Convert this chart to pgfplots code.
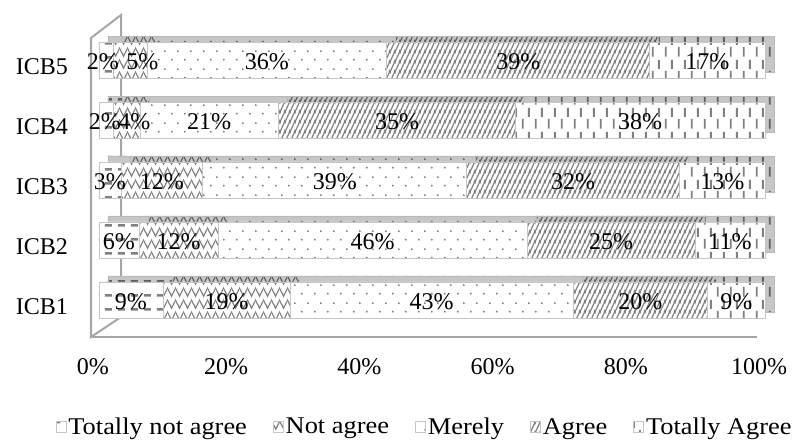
\documentclass[border=0pt]{standalone}
\usepackage{pgfplots}
\pgfplotsset{compat=1.18}
\usepackage{pgfplotstable}
\usepackage{fontspec}
\setmainfont{Liberation Serif}
\newfontfamily\legfont{Liberation Serif}[FakeStretch=1.1]
\usetikzlibrary{patterns}

% patterns
\pgfdeclarepatternformonly{tna}{\pgfpointorigin}{\pgfpoint{13bp}{14bp}}{\pgfpoint{13bp}{14bp}}{%
  \pgfsetlinewidth{2.6bp}%
  \pgfpathmoveto{\pgfpoint{1bp}{7bp}}\pgfpathlineto{\pgfpoint{8.5bp}{7bp}}\pgfusepath{stroke}}
\pgfdeclarepatternformonly{zig}{\pgfpointorigin}{\pgfpoint{8bp}{12bp}}{\pgfpoint{8bp}{12bp}}{%
  \pgfsetlinewidth{1.3bp}%
  \pgfpathmoveto{\pgfpoint{-1bp}{11.5bp}}\pgfpathlineto{\pgfpoint{4bp}{2bp}}\pgfpathlineto{\pgfpoint{9bp}{11.5bp}}\pgfusepath{stroke}}
\pgfdeclarepatternformonly{dts}{\pgfpointorigin}{\pgfpoint{13bp}{18bp}}{\pgfpoint{13bp}{18bp}}{%
  \pgfpathcircle{\pgfpoint{3bp}{4.5bp}}{1.1bp}%
  \pgfpathcircle{\pgfpoint{9.5bp}{13.5bp}}{1.1bp}\pgfusepath{fill}}
\pgfdeclarepatternformonly{agr}{\pgfpointorigin}{\pgfpoint{5bp}{10bp}}{\pgfpoint{5bp}{10bp}}{%
  \pgfsetlinewidth{1.4bp}%
  \pgfpathmoveto{\pgfpoint{-1bp}{-2bp}}\pgfpathlineto{\pgfpoint{6bp}{12bp}}%
  \pgfpathmoveto{\pgfpoint{-6bp}{-2bp}}\pgfpathlineto{\pgfpoint{1bp}{12bp}}%
  \pgfpathmoveto{\pgfpoint{4bp}{-2bp}}\pgfpathlineto{\pgfpoint{11bp}{12bp}}\pgfusepath{stroke}}
\pgfdeclarepatternformonly{vda}{\pgfpointorigin}{\pgfpoint{13bp}{24bp}}{\pgfpoint{13bp}{24bp}}{%
  \pgfsetlinewidth{2bp}%
  \pgfpathmoveto{\pgfpoint{3bp}{1.5bp}}\pgfpathlineto{\pgfpoint{3bp}{11.5bp}}%
  \pgfpathmoveto{\pgfpoint{9.5bp}{13.5bp}}\pgfpathlineto{\pgfpoint{9.5bp}{23bp}}\pgfusepath{stroke}}

\pgfplotstableread{
y  tna  na   me   ag   ta
1  9.6  19.1 42.5 20.2 8.6
2  6.0  11.9 46.4 25.2 10.5
3  3.3  12.3 39.6 32.0 12.8
4  2.1  4.1  20.7 35.6 37.5
5  2.1  5.1  36.0 39.5 17.3
}\bars

\pgfplotstableread{
x y v
4.8 1 9
19.15 1 19
49.95 1 43
81.3 1 20
95.7 1 9
3.0 2 6
11.95 2 12
41.1 2 46
76.9 2 25
94.75 2 11
1.65 3 3
9.45 3 12
35.4 3 39
71.2 3 32
93.6 3 13
0.9 4 2
5.3 4 4
16.55 4 21
44.75 4 35
81.25 4 38
0.6 5 2
6.5 5 5
25.2 5 36
62.95 5 39
91.35 5 17
}\lbls

\pgfplotsset{
  common/.style={width=674bp, height=299bp, scale only axis,
    xmin=-1.2, xmax=100, ymin=0.383, ymax=5.367, clip=false, enlargelimits=false},
  bars/.style={xbar stacked, bar width=36bp},
  front/.style={fill=white, draw=gray!45, line width=0.8bp, postaction={pattern=#1, pattern color=gray}},
  back/.style={fill=gray!45, draw=gray!55, line width=0.8bp, postaction={pattern=#1, pattern color=gray!75!black}},
}

\begin{document}
\fontsize{24bp}{29bp}\selectfont
\begin{tikzpicture}
% wall
\begin{axis}[common, hide axis]
\addplot[draw=none, mark=none] coordinates {(0,1) (100,5)};
\draw[gray!70, line width=2bp] (rel axis cs:0,0) -- (rel axis cs:0,1)
  -- ([xshift=30bp,yshift=23bp]rel axis cs:0,1) -- ([xshift=30bp,yshift=20bp]rel axis cs:0,0) -- cycle;
\draw[gray!70, line width=2bp] (rel axis cs:0,0) -- (rel axis cs:0.988,0);
\end{axis}
% depth faces
\begin{axis}[common, hide axis, bars, at={(9bp,6bp)}]
\addplot[back=tna] table[x=tna, y=y] {\bars};
\addplot[back=zig] table[x=na, y=y] {\bars};
\addplot[back=dts] table[x=me, y=y] {\bars};
\addplot[back=agr] table[x=ag, y=y] {\bars};
\addplot[back=vda] table[x=ta, y=y] {\bars};
\end{axis}
% front faces
\begin{axis}[common, bars,
  axis line style={draw=none}, major tick length=0pt, tick style={draw=none},
  xtick={0,20,40,60,80,100}, xticklabels={0\%,20\%,40\%,60\%,80\%,100\%},
  xticklabel style={anchor=north, inner sep=0pt, yshift=-21bp, xshift=-6bp},
  ytick={1,2,3,4,5}, yticklabels={ICB1,ICB2,ICB3,ICB4,ICB5},
  yticklabel style={anchor=east, inner sep=0pt, xshift=-23bp, yshift=-7bp},
  legend columns=5,
  legend style={draw=none, fill=none, at={(0.495,-0.304)}, anchor=center, font=\legfont,
    /tikz/every even column/.append style={column sep=24bp}},
  legend image code/.code={\path[#1, draw=none] (0bp,-5bp) rectangle (10bp,6bp);},
]
\addplot[front=tna] table[x=tna, y=y] {\bars};
\addplot[front=zig] table[x=na, y=y] {\bars};
\addplot[front=dts] table[x=me, y=y] {\bars};
\addplot[front=agr] table[x=ag, y=y] {\bars};
\addplot[front=vda] table[x=ta, y=y] {\bars};
\legend{Totally not agree, Not agree, Merely, Agree, Totally Agree}
\end{axis}
% labels
\begin{axis}[common, hide axis]
\addplot[draw=none, mark=none, nodes near coords={\pgfplotspointmeta\%}, point meta=explicit symbolic,
  nodes near coords style={anchor=center, inner sep=0pt, yshift=-2bp}]
  table[x=x, y=y, meta=v] {\lbls};
\end{axis}
\pgfresetboundingbox
\path[use as bounding box] (-91bp,-105bp) rectangle (712bp,337bp);
\end{tikzpicture}
\end{document}
